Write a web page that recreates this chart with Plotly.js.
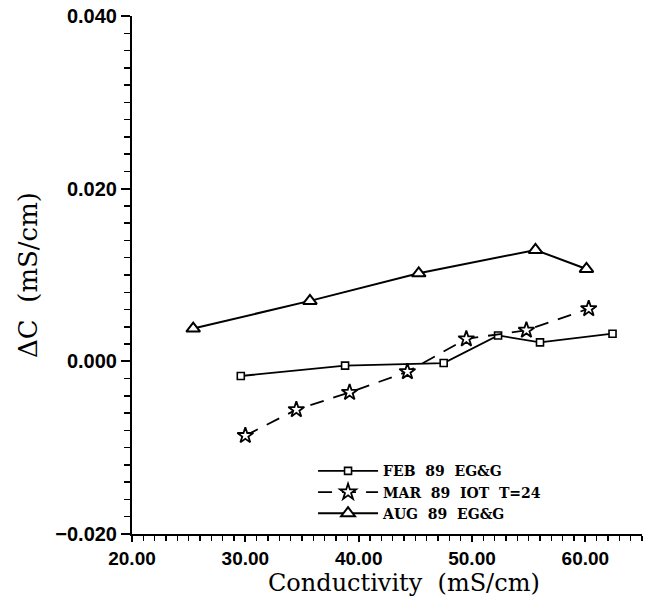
<!DOCTYPE html>
<html>
<head>
<meta charset="utf-8">
<script src="https://cdn.plot.ly/plotly-3.0.1.min.js"></script>
<style>
  html, body { margin: 0; padding: 0; background: #fff; }
  #chart { width: 660px; height: 597px; }
</style>
</head>
<body>
<div id="chart"></div>
<script>
// ---- data ----
const febX = [29.6, 38.8, 47.5, 52.3, 56.0, 62.4];
const febY = [-0.0017, -0.0005, -0.0002, 0.0030, 0.0022, 0.0032];

const marX = [30.0, 34.5, 39.2, 44.3, 49.5, 54.8, 60.3];
const marY = [-0.0086, -0.0056, -0.0036, -0.0012, 0.0026, 0.0036, 0.0061];

const augX = [25.4, 35.7, 45.3, 55.6, 60.1];
const augY = [0.0038, 0.0070, 0.0102, 0.0129, 0.0107];

const seriesNames = [
  "FEB\u00a0\u00a089\u00a0\u00a0EG&G",
  "MAR\u00a0\u00a089\u00a0\u00a0IOT\u00a0\u00a0T=24",
  "AUG\u00a0\u00a089\u00a0\u00a0EG&G"
];

const xTitle = "Conductivity\u00a0\u00a0(mS/cm)";
const yTitle = "\u0394C\u00a0\u00a0(mS/cm)";

const traces = [
  {
    x: febX, y: febY, name: seriesNames[0], type: "scatter", mode: "lines+markers",
    line: { color: "black", width: 1.8 },
    marker: { symbol: "square", size: 7, color: "white", line: { color: "black", width: 1.6 } }
  },
  {
    x: marX, y: marY, name: seriesNames[1], type: "scatter", mode: "lines+markers",
    line: { color: "black", width: 1.8, dash: "14px,10px" },
    marker: { symbol: "star", size: 12, color: "white", line: { color: "black", width: 1.8 } }
  },
  {
    x: augX, y: augY, name: seriesNames[2], type: "scatter", mode: "lines+markers",
    line: { color: "black", width: 2 },
    marker: { symbol: "triangle-up", size: 12, color: "white", line: { color: "black", width: 2 } }
  }
];

const yTickFont = { family: "Liberation Sans, Arial, sans-serif", size: 20, color: "black", weight: "bold" };
const xTickFont = { family: "Liberation Sans, Arial, sans-serif", size: 19, color: "black", weight: "bold" };

const layout = {
  width: 660, height: 597,
  paper_bgcolor: "white", plot_bgcolor: "white",
  margin: { l: 132, r: 18, t: 16, b: 63 },
  showlegend: true,
  legend: {
    x: 0.355, y: 0.152, xanchor: "left", yanchor: "top",
    bgcolor: "rgba(0,0,0,0)", borderwidth: 0,
    itemwidth: 60, tracegroupgap: 0,
    font: { family: "DejaVu Serif, serif", size: 14, color: "black", weight: "bold" }
  },
  xaxis: {
    range: [20, 65],
    tickmode: "linear", tick0: 20, dtick: 10, tickformat: ".2f",
    ticks: "outside", ticklen: 6, tickwidth: 2, tickcolor: "black",
    minor: { dtick: 1, ticks: "outside", ticklen: 5, tickwidth: 1.5, tickcolor: "black", showgrid: false },
    showline: true, linewidth: 2, linecolor: "black",
    showgrid: false, zeroline: false,
    tickfont: xTickFont,
    title: { text: "" }
  },
  yaxis: {
    range: [-0.020, 0.040],
    tickmode: "linear", tick0: -0.020, dtick: 0.020, tickformat: ".3f",
    ticks: "outside", ticklen: 9, tickwidth: 2, tickcolor: "black",
    minor: { dtick: 0.002, ticks: "outside", ticklen: 6, tickwidth: 1.5, tickcolor: "black", showgrid: false },
    showline: true, linewidth: 2, linecolor: "black",
    showgrid: false, zeroline: false,
    tickfont: yTickFont,
    title: { text: yTitle, font: { family: "DejaVu Serif, serif", size: 26, color: "black" }, standoff: 10 }
  },
  annotations: [
    {
      text: xTitle, xref: "paper", yref: "paper",
      x: 0.533, y: -0.1255, xanchor: "center", yanchor: "bottom",
      showarrow: false,
      font: { family: "DejaVu Serif, serif", size: 24, color: "black" }
    }
  ]
};

Plotly.newPlot("chart", traces, layout, { staticPlot: true, displayModeBar: false });
</script>
</body>
</html>
